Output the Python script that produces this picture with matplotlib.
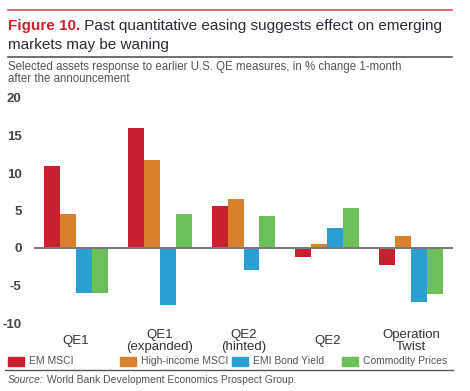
import matplotlib
matplotlib.use("Agg")
import matplotlib.pyplot as plt
from matplotlib.patches import Rectangle
from matplotlib.lines import Line2D
import numpy as np

plt.rcParams['font.family'] = ['Liberation Sans', 'DejaVu Sans']

RED = "#c8202f"; ORANGE = "#d9822b"; BLUE = "#2a9fd4"; GREEN = "#6cc05a"
DARK = "#2a2a3a"; GRAY = "#555555"

categories = ["QE1", "QE1\n(expanded)", "QE2\n(hinted)", "QE2", "Operation\nTwist"]
series = ["EM MSCI", "High-income MSCI", "EMI Bond Yield", "Commodity Prices"]
em_msci = [11.0, 16.0, 5.6, -1.2, -2.3]
hi_msci = [4.5, 11.8, 6.5, 0.5, 1.6]
emi_bond = [-6.0, -7.6, -2.9, 2.7, -7.2]
commodity = [-6.0, 4.5, 4.3, 5.4, -6.1]
colors = [RED, ORANGE, BLUE, GREEN]
yticks = [-10, -5, 0, 5, 10, 15, 20]

fig = plt.figure(figsize=(4.70, 3.91), dpi=100)
ax = fig.add_axes([34/470, 1-323/391, (453-34)/470, (323-98)/391])

x = np.arange(len(categories))
w = 0.19
for i, (vals, col) in enumerate(zip([em_msci, hi_msci, emi_bond, commodity], colors)):
    ax.bar(x + (i-1.5)*w, vals, w, color=col, edgecolor="none", zorder=2)
ax.axhline(0, color="#7a7a7a", lw=1.5, zorder=3)
ax.set_xlim(-0.5, len(categories)-0.5)
ax.set_ylim(-10, 20)
ax.set_yticks(yticks)
ax.set_yticklabels([str(t) for t in yticks], fontsize=9.5, color="#444444", fontweight="bold")
ax.tick_params(axis="y", length=0, pad=9)
ax.set_xticks([])
for sp in ax.spines.values(): sp.set_visible(False)
# category labels, centred about 18 px below the plot
for xi, c in zip(x, categories):
    ax.annotate(c, (xi, 0), xycoords=("data", "axes fraction"), xytext=(0, -13),
                textcoords="offset points", ha="center", va="center", fontsize=9.5,
                color="#333333", linespacing=0.95, annotation_clip=False)

# title block
fig.add_artist(Line2D([8/470, 452/470], [1-10/391]*2, color="#d9534f", lw=1.2))
t1 = fig.text(8/470, 1-30/391, "Figure 10.", color="#d0202e", fontsize=11, fontweight="bold", va="baseline")
fig.text(0, 0, "")
ax.annotate(" Past quantitative easing suggests effect on emerging", xy=(1, 0), xycoords=t1,
            va="bottom", ha="left", color=DARK, fontsize=11)
fig.text(8/470, 1-49/391, "markets may be waning", color=DARK, fontsize=11, va="baseline")
fig.add_artist(Line2D([8/470, 452/470], [1-57/391]*2, color="#555555", lw=1.2))
fig.text(8/470, 1-67/391, "Selected assets response to earlier U.S. QE measures, in % change 1-month",
         color=GRAY, fontsize=8.3, va="center")
fig.text(8/470, 1-79/391, "after the announcement", color=GRAY, fontsize=8.3, va="center")

# legend
lx = [8, 120, 232, 342]
for px, lab, col in zip(lx, series, colors):
    fig.add_artist(Rectangle((px/470, 1-366/391), 16/470, 9/391, color=col, transform=fig.transFigure))
    fig.text((px+21)/470, 1-361.5/391, lab, color=GRAY, fontsize=7.5, va="center")
fig.add_artist(Line2D([5/470, 453/470], [1-370/391]*2, color="#555555", lw=1.0))
s1 = fig.text(8/470, 1-380/391, "Source:", color=GRAY, fontsize=7.5, va="center", style="italic")
ax.annotate(" World Bank Development Economics Prospect Group.", xy=(1, 0), xycoords=s1,
            va="bottom", ha="left", color=GRAY, fontsize=7.5)

fig.savefig("out.png", dpi=100)
